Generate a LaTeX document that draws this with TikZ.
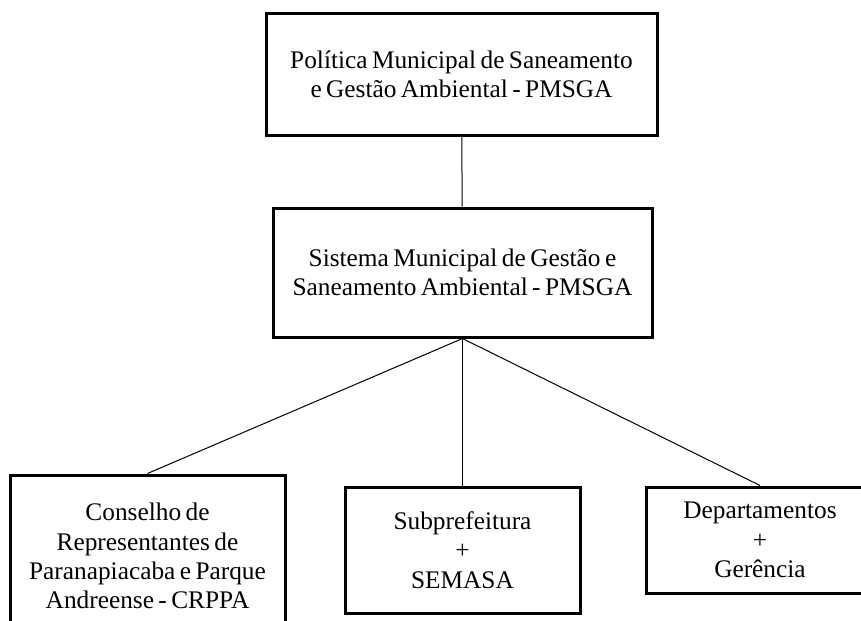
\documentclass[tikz,border=0pt]{standalone}
\usepackage{fontspec}
\setmainfont{Liberation Serif}[WordSpace=0.7]
\begin{document}
\begin{tikzpicture}[
    x=0.75pt, y=-0.75pt,
    node distance=148.9pt,
    box/.style={rectangle, draw, line width=2.25pt, inner sep=0pt, align=center, font=\fontsize{19}{22}\selectfont},
    link/.style={line width=0.75pt}
]
    \clip (0,0) rectangle (861,621);

    % 上层节点
    \node[box, minimum width=293.25pt, minimum height=91.5pt] (pmsga) at (461.5,74)
        {Política Municipal de Saneamento\\ e Gestão Ambiental - PMSGA};
    \node[box, minimum width=284.25pt, minimum height=96.75pt] (sistema) [below of=pmsga, xshift=0.75pt]
        {Sistema Municipal de Gestão e\\ Saneamento Ambiental - PMSGA};

    % 下层节点
    \node[box, minimum width=176.25pt, minimum height=94.5pt] (semasa) [below of=sistema, yshift=-59.2pt]
        {Subprefeitura\\ +\\ SEMASA};
    \node[box, minimum width=206.25pt, minimum height=121.5pt] (crppa) [left of=semasa, xshift=-87.35pt, yshift=-4.5pt]
        {Conselho de\\ Representantes de\\ Paranapiacaba e Parque\\ Andreense - CRPPA};
    \node[box, minimum width=169.5pt, minimum height=79.5pt] (depto) [right of=semasa, xshift=74.2pt, yshift=7.5pt]
        {Departamentos\\ +\\ Gerência};

    % 连线
    \draw[link] (pmsga) -- (sistema);
    \draw[link] (sistema.south) -- (crppa.north);
    \draw[link] (sistema.south) -- (semasa.north);
    \draw[link] (sistema.south) -- (depto.north);
\end{tikzpicture}
\end{document}
